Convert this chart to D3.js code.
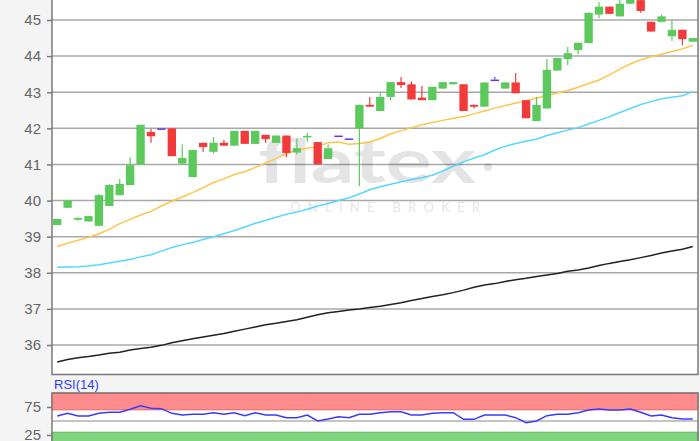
<!DOCTYPE html>
<html>
<head>
<meta charset="utf-8">
<script src="https://cdn.jsdelivr.net/npm/d3@7"></script>
<style>
  body { margin: 0; background: #f4f4f4; }
  svg { display: block; font-family: "Liberation Sans", Arial, sans-serif; }
</style>
</head>
<body>
<script>
// candle data (one entry per trading day)
var opens  = [39.32,39.80,39.47,39.42,39.30,39.85,40.15,40.43,41.00,41.90,42.00,42.00,41.02,40.65,41.60,41.35,41.60,41.52,41.93,41.57,
              41.82,41.60,41.80,41.33,41.76,41.62,41.15,41.80,41.72,42.00,42.65,42.48,42.87,43.28,43.22,42.85,42.78,43.10,43.22,43.22,
              42.65,42.60,43.35,43.10,43.27,42.78,42.20,42.55,43.60,43.92,44.17,44.36,45.15,45.37,45.10,45.45,45.55,44.95,44.95,44.55,
              44.73,44.40];
var closes = [39.49,40.00,39.52,39.57,40.15,40.43,40.46,40.98,42.10,41.78,42.00,41.23,41.18,41.40,41.48,41.60,41.52,41.93,41.57,41.93,
              41.70,41.80,41.32,41.45,41.79,41.00,41.45,41.80,41.72,42.65,42.60,42.87,43.28,43.20,42.80,42.78,43.15,43.28,43.28,42.48,
              42.60,43.27,43.35,43.27,42.97,42.28,42.65,43.62,43.95,44.08,44.37,45.20,45.37,45.17,45.45,45.62,45.25,44.68,45.10,44.73,
              44.47,44.50];
var highs  = [39.49,40.00,39.53,39.57,40.18,40.45,40.60,41.20,42.10,41.98,42.00,42.00,41.55,41.40,41.60,41.76,41.68,41.93,41.93,41.93,
              41.82,41.80,41.80,41.72,41.88,41.62,41.55,41.80,41.72,42.65,42.87,42.98,43.28,43.42,43.30,43.17,43.15,43.28,43.28,43.22,
              42.65,43.27,43.42,43.27,43.53,42.78,42.87,43.92,43.95,44.25,44.37,45.20,45.50,45.37,45.60,45.62,45.60,44.95,45.15,45.00,
              44.73,44.50];
var lows   = [39.32,39.80,39.44,39.42,39.28,39.85,40.15,40.43,41.00,41.60,42.00,41.23,41.02,40.65,41.35,41.30,41.52,41.52,41.57,41.57,
              41.60,41.60,41.20,41.28,41.63,41.00,41.15,41.80,41.72,40.40,42.60,42.48,42.78,43.12,42.80,42.78,42.78,43.10,43.22,42.48,
              42.55,42.60,43.35,43.10,42.97,42.28,42.20,42.55,43.60,43.75,44.05,44.36,45.05,45.17,45.10,45.45,45.20,44.68,44.95,44.42,
              44.30,44.40];

// moving averages
var maShort = [38.73,38.82,38.90,38.98,39.08,39.20,39.36,39.48,39.60,39.70,39.85,39.98,40.10,40.22,40.36,40.50,40.60,40.72,40.80,40.92,
               41.04,41.16,41.30,41.40,41.45,41.50,41.60,41.62,41.56,41.58,41.62,41.72,41.85,41.93,42.02,42.10,42.16,42.22,42.28,42.33,
               42.40,42.48,42.56,42.63,42.70,42.76,42.84,42.90,42.98,43.05,43.14,43.24,43.34,43.48,43.64,43.78,43.90,43.98,44.05,44.13,
               44.20,44.30];
var maMid   = [38.15,38.16,38.17,38.19,38.22,38.27,38.32,38.37,38.44,38.50,38.60,38.70,38.78,38.84,38.92,39.00,39.08,39.17,39.27,39.37,
               39.45,39.54,39.62,39.68,39.76,39.85,39.92,40.00,40.08,40.18,40.30,40.38,40.45,40.52,40.58,40.63,40.70,40.82,40.95,41.07,
               41.18,41.27,41.40,41.50,41.58,41.64,41.70,41.80,41.88,41.95,42.02,42.12,42.22,42.32,42.44,42.55,42.66,42.74,42.82,42.86,
               42.90,43.02];
var maLong  = [35.53,35.60,35.65,35.68,35.72,35.77,35.80,35.86,35.90,35.94,35.99,36.06,36.12,36.17,36.22,36.27,36.32,36.38,36.44,36.50,
               36.56,36.60,36.65,36.70,36.77,36.84,36.89,36.93,36.97,37.00,37.04,37.07,37.12,37.17,37.23,37.29,37.34,37.39,37.45,37.52,
               37.60,37.66,37.70,37.76,37.81,37.85,37.90,37.94,37.98,38.04,38.08,38.13,38.20,38.26,38.31,38.36,38.42,38.48,38.55,38.60,
               38.65,38.73];

// RSI(14)
var rsi = [58.9,63.7,59.0,59.0,63.7,65.5,65.5,70.9,77.3,72.6,72.0,63.7,60.7,62.0,62.0,64.5,62.0,64.5,59.5,64.5,
           60.7,60.7,55.9,55.9,60.7,50.0,53.5,57.7,55.9,62.0,62.0,64.8,66.5,66.5,60.7,60.7,63.7,64.8,64.8,53.0,
           53.0,60.7,60.7,60.7,55.9,47.0,50.0,59.5,62.0,62.0,64.8,69.6,71.4,69.6,69.6,71.4,65.5,59.0,60.7,55.9,
           53.5,53.5];

var priceTicks = [36,37,38,39,40,41,42,43,44,45];
var rsiTicks = [75, 25];

var width = 700, height = 441;
var left = 52, right = 698;
var plotTop = -6, plotBottom = 374.5;
var rsiTop = 393;

var svg = d3.select("body").append("svg")
    .attr("width", width)
    .attr("height", height);

svg.append("rect").attr("width", width).attr("height", height).attr("fill", "#f4f4f4");

//scales
var x = d3.scaleBand()
    .domain(d3.range(opens.length))
    .range([left, right])
    .paddingInner(0.2)
    .paddingOuter(0.1);

var y = d3.scaleLinear().domain([36, 45]).range([345, 20]);
var yr = d3.scaleLinear().domain([0, 100]).range([449, rsiTop]);

var cx = function(i){ return x(i) + x.bandwidth() / 2; };

//main panel
svg.append("defs").append("clipPath").attr("id", "clipMain")
    .append("rect").attr("x", left).attr("y", plotTop).attr("width", right - left).attr("height", plotBottom - plotTop);

svg.append("rect")
    .attr("x", left).attr("y", plotTop)
    .attr("width", right - left).attr("height", plotBottom - plotTop)
    .attr("fill", "#fff");

var main = svg.append("g").attr("clip-path", "url(#clipMain)");

//grid
main.selectAll(".grid")
    .data(priceTicks)
    .enter()
    .append("line")
    .attr("x1", left).attr("x2", right)
    .attr("y1", function(d){ return y(d); })
    .attr("y2", function(d){ return y(d); })
    .attr("stroke", "#a8a8a8")
    .attr("stroke-width", 1.5);

//watermark
var wm = main.append("g").attr("fill", "#000").attr("opacity", 0.1);
wm.append("text")
    .attr("x", 258).attr("y", 183)
    .attr("font-family", "Lato, 'Open Sans', sans-serif")
    .attr("font-weight", "bold")
    .attr("font-size", 62)
    .attr("textLength", 218)
    .attr("lengthAdjust", "spacingAndGlyphs")
    .text("flatex");
wm.append("circle").attr("cx", 488).attr("cy", 167).attr("r", 4);
wm.append("text")
    .attr("x", 290).attr("y", 212)
    .attr("font-family", "Lato, 'Open Sans', sans-serif")
    .attr("font-size", 13)
    .attr("textLength", 190)
    .attr("lengthAdjust", "spacing")
    .text("ONLINE BROKER");

//moving averages
var maLine = function(arr){
    return d3.line()
        .x(function(d, i){ return cx(i); })
        .y(function(d){ return y(d); })(arr);
};
[[maLong, "#222"], [maMid, "#55d8ff"], [maShort, "#ffc44a"]].forEach(function(m){
    main.append("path")
        .attr("d", maLine(m[0]))
        .attr("fill", "none")
        .attr("stroke", m[1])
        .attr("stroke-width", 1.5);
});

//candles
var candleColor = function(i){
    if (closes[i] > opens[i]) return "#5cc95c";
    if (closes[i] < opens[i]) return "#f23a3a";
    return "#6a2ef0";
};

var candles = main.selectAll(".candle")
    .data(d3.range(opens.length))
    .enter()
    .append("g")
    .attr("class", "candle");

candles.append("line")
    .attr("x1", cx).attr("x2", cx)
    .attr("y1", function(i){ return y(highs[i]); })
    .attr("y2", function(i){ return y(lows[i]); })
    .attr("stroke", candleColor)
    .attr("stroke-width", 1.2);

candles.append("rect")
    .attr("x", function(i){ return x(i); })
    .attr("width", x.bandwidth())
    .attr("y", function(i){ return y(Math.max(opens[i], closes[i])); })
    .attr("height", function(i){ return Math.max(1.5, Math.abs(y(opens[i]) - y(closes[i]))); })
    .attr("fill", candleColor);

//frame
svg.append("path")
    .attr("d", "M" + right + "," + plotTop + "V" + plotBottom + "H" + left + "V" + plotTop)
    .attr("fill", "none")
    .attr("stroke", "#7a7a7a")
    .attr("stroke-width", 1.5);

//y axis
var yAxis = svg.append("g")
    .attr("transform", "translate(" + left + ",0)")
    .call(d3.axisLeft(y).tickValues(priceTicks).tickSize(5).tickPadding(6).tickFormat(d3.format("d")));
yAxis.select(".domain").remove();
yAxis.selectAll("line").attr("stroke", "#7a7a7a").attr("stroke-width", 1.5);
yAxis.selectAll("text").attr("fill", "#666").attr("font-size", 15).attr("font-family", "Liberation Sans, Arial, sans-serif");

//RSI panel
svg.append("text")
    .attr("x", 54).attr("y", 389)
    .attr("fill", "#2b3cff")
    .attr("font-size", 13)
    .text("RSI(14)");

svg.append("rect")
    .attr("x", left).attr("y", rsiTop)
    .attr("width", right - left).attr("height", height - rsiTop + 5)
    .attr("fill", "#fff");

svg.append("rect")
    .attr("x", left).attr("y", yr(100))
    .attr("width", right - left).attr("height", yr(70) - yr(100))
    .attr("fill", "#ff8c8c")
    .attr("stroke", "#e06a6a");

svg.append("rect")
    .attr("x", left).attr("y", yr(30))
    .attr("width", right - left).attr("height", yr(0) - yr(30))
    .attr("fill", "#80d480")
    .attr("stroke", "#62b862");

svg.append("line")
    .attr("x1", left).attr("x2", right)
    .attr("y1", yr(50)).attr("y2", yr(50))
    .attr("stroke", "#b0b0b0").attr("stroke-width", 1.5);

svg.append("path")
    .attr("d", d3.line().x(function(d, i){ return cx(i); }).y(function(d){ return yr(d); })(rsi))
    .attr("fill", "none")
    .attr("stroke", "#3a3aff")
    .attr("stroke-width", 1.5);

svg.append("path")
    .attr("d", "M" + left + "," + (height + 5) + "V" + rsiTop + "H" + right + "V" + (height + 5))
    .attr("fill", "none")
    .attr("stroke", "#7a7a7a")
    .attr("stroke-width", 1.5);

var rAxis = svg.append("g")
    .attr("transform", "translate(" + left + ",0)")
    .call(d3.axisLeft(yr).tickValues(rsiTicks).tickSize(5).tickPadding(6));
rAxis.select(".domain").remove();
rAxis.selectAll("line").attr("stroke", "#7a7a7a").attr("stroke-width", 1.5);
rAxis.selectAll("text").attr("fill", "#666").attr("font-size", 15).attr("font-family", "Liberation Sans, Arial, sans-serif");
</script>
</body>
</html>
